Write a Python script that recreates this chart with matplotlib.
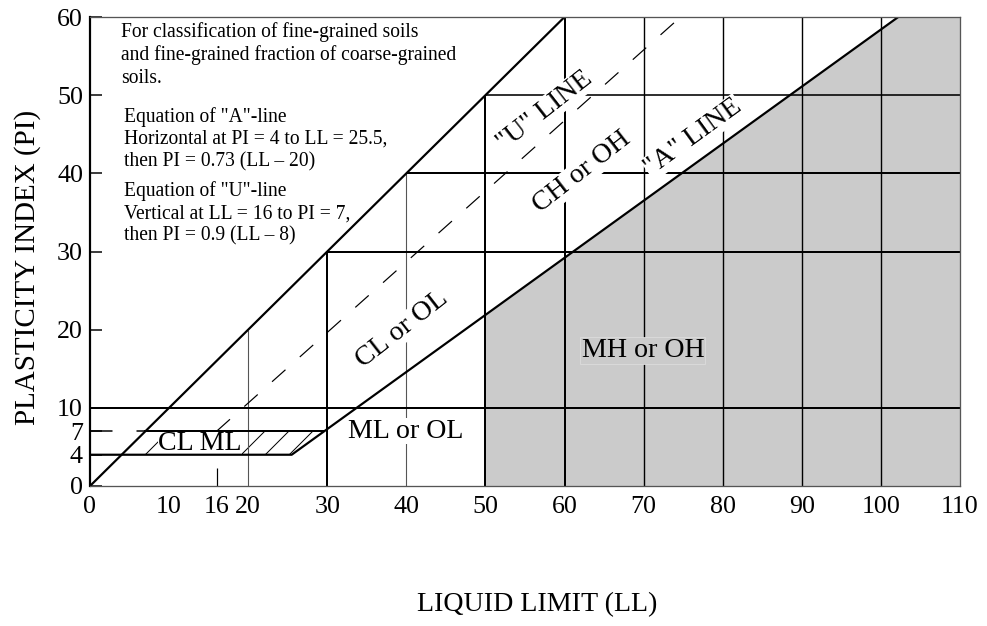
import matplotlib
matplotlib.use("Agg")
import matplotlib.pyplot as plt
from matplotlib.patches import Polygon

plt.rcParams['font.family'] = ['Liberation Serif', 'DejaVu Serif']
plt.rcParams['hatch.linewidth'] = 1.0

# ---------------- data ----------------
ll_range = [0, 110]
pi_range = [0, 60]
x_ticks = [0, 10, 16, 20, 30, 40, 50, 60, 70, 80, 90, 100, 110]
y_ticks = [0, 4, 7, 10, 20, 30, 40, 50, 60]

a_slope, a_shift = 0.73, 20          # "A"-line: PI = 0.73 (LL - 20)
a_floor_pi, a_floor_ll = 4, 25.5     # horizontal at PI = 4 to LL = 25.5
u_slope, u_shift = 0.9, 8            # "U"-line: PI = 0.9 (LL - 8)
u_vert_ll, u_vert_pi = 16, 7         # vertical at LL = 16 to PI = 7
upper_slope = 1.0                    # drawn upper boundary PI = LL
band_pi = [4, 7]                     # CL-ML band limits
ll_split = 50                        # low / high plasticity split

ll_grid = [20, 30, 40, 50, 60, 70, 80, 90, 100]
ll_grid_thin = [20, 40]
pi_grid = [10, 30, 40, 50]

region_labels = [
    ("CL ML", 13.9, 5.4, 0),
    ("ML or OL", 39.9, 7.0, 0),
    ("CL or OL", 39.4, 20.0, 38),
    ("CH or OH", 62.2, 40.1, 38),
    ('"U" LINE', 57.5, 48.0, 38),
    ('"A" LINE', 76.3, 44.6, 36),
]
mh_label = ("MH or OH", 69.9, 17.3)

note1 = ("For classification of fine-grained soils\n"
         "and fine-grained fraction of coarse-grained\n"
         "soils.")
note2 = ('Equation of "A"-line\n'
         'Horizontal at PI = 4 to LL = 25.5,\n'
         'then PI = 0.73 (LL \u2013 20)')
note3 = ('Equation of "U"-line\n'
         'Vertical at LL = 16 to PI = 7,\n'
         'then PI = 0.9 (LL \u2013 8)')


def a_pi(ll):
    return a_slope * (ll - a_shift)


def a_ll(pi):
    return pi / a_slope + a_shift


def u_ll(pi):
    return pi / u_slope + u_shift


# ---------------- figure ----------------
DPI = 72
fig = plt.figure(figsize=(987 / DPI, 626 / DPI), dpi=DPI)
ax = fig.add_axes([90 / 987, (626 - 486) / 626, 870 / 987, 469 / 626])
ax.set_xlim(*ll_range)
ax.set_ylim(*pi_range)

xmax, ymax = ll_range[1], pi_range[1]

# shaded MH/OH region
ll_top = a_ll(ymax)
shade = Polygon([(ll_split, 0), (ll_split, a_pi(ll_split)), (ll_top, ymax),
                 (xmax, ymax), (xmax, 0)], closed=True,
                facecolor='#cbcbcb', edgecolor='none', zorder=1)
ax.add_patch(shade)

# hatched CL-ML band
lo, hi = band_pi
band = Polygon([(lo / upper_slope, lo), (a_floor_ll, lo), (a_ll(hi), hi),
                (hi / upper_slope, hi)], closed=True,
               facecolor='none', edgecolor='black', linewidth=0,
               hatch='/', zorder=2)
ax.add_patch(band)

# staircase grid
for ll in ll_grid:
    top = min(ll * upper_slope, ymax)
    thin = ll in ll_grid_thin
    ax.plot([ll, ll], [0, top], color='#555555' if thin else 'black',
            lw=1.1 if thin else (1.4 if ll > 60 else 2.0), zorder=3,
            solid_capstyle='butt')
for pi in pi_grid:
    start = 0 if pi == 10 else pi / upper_slope
    ax.plot([start, xmax], [pi, pi], color='black', lw=2.0 if pi < 50 else 1.6,
            zorder=3, solid_capstyle='butt')

# main boundaries (drawn above the label boxes)
ax.plot([0, ymax / upper_slope], [0, ymax], color='black', lw=2.2, zorder=8)
ax.plot([0, a_floor_ll, ll_top], [a_floor_pi, a_floor_pi, ymax],
        color='black', lw=2.2, zorder=8)
ax.plot([hi / upper_slope, a_ll(hi)], [hi, hi], color='black', lw=2.0, zorder=8)

# dashed "U"-line
dash = (0, (15, 16))
ax.plot([u_vert_ll, u_ll(ymax)], [u_vert_pi, ymax], color='black', lw=1.2,
        linestyle=dash, zorder=4)
ax.plot([u_vert_ll, u_vert_ll], [0, u_vert_pi], color='black', lw=1.2,
        linestyle=dash, zorder=4)
ax.plot([0, hi / upper_slope], [hi, hi], color='black', lw=1.5,
        linestyle=dash, zorder=4)

# region labels
for txt, x, y, rot in region_labels:
    ax.text(x, y, txt, fontsize=28, rotation=rot, ha='center', va='center',
            rotation_mode='anchor', zorder=6,
            bbox=dict(facecolor='white', edgecolor='none', pad=0.5))
ax.text(mh_label[1], mh_label[2], mh_label[0], fontsize=28, ha='center',
        va='center', zorder=6,
        bbox=dict(facecolor='#cbcbcb', edgecolor='#dddddd', pad=1.0, lw=0.8))

# notes
ax.text(3.9, 59.4, note1, fontsize=19.5, ha='left', va='top',
        linespacing=1.26, zorder=6)
ax.text(4.3, 48.5, note2, fontsize=19.5, ha='left', va='top',
        linespacing=1.22, zorder=6)
ax.text(4.3, 39.0, note3, fontsize=19.5, ha='left', va='top',
        linespacing=1.22, zorder=6)

# axes styling
ax.spines['left'].set_linewidth(2.2)
ax.spines['left'].set_color('black')
for s in ['top', 'right', 'bottom']:
    ax.spines[s].set_linewidth(1.3)
    ax.spines[s].set_color('#555555')
for s in ax.spines.values():
    s.set_zorder(9)

ax.set_xticks(x_ticks)
ax.set_yticks(y_ticks)
ax.tick_params(axis='x', length=0, pad=10, labelsize=26)
ax.tick_params(axis='y', direction='in', length=12, width=1.5, pad=7,
               labelsize=26)

ax.set_xlabel('LIQUID LIMIT (LL)', fontsize=28)
ax.set_ylabel('PLASTICITY INDEX (PI)', fontsize=29)
ax.xaxis.set_label_coords(0.514, -0.226)
ax.yaxis.set_label_coords(-0.056, 0.465)

fig.savefig('out.png', dpi=DPI)
